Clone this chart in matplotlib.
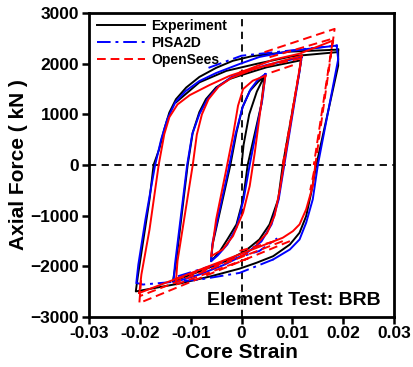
import numpy as np
import matplotlib.pyplot as plt
from matplotlib.lines import Line2D

plt.rcParams['font.family'] = ['Liberation Sans', 'DejaVu Sans']
plt.rcParams['font.weight'] = 'bold'

nan = np.nan

# ---- Experiment (black), branches separated by nan ----
exp_strain = [0.0, 0.0004, 0.0015, 0.0030, 0.0045, nan,
              # small loop
              0.0045, 0.0039, 0.0012, 0.0003, -0.0010, -0.0028, -0.0043, -0.0060,
              -0.0057, -0.0022, -0.0010, 0.0002, 0.0016, 0.0032, 0.0045, nan,
              # medium loop
              0.0117, 0.0113, 0.0081, 0.0072, 0.0055, 0.0035, 0.0006, -0.0033, -0.0083, -0.0135,
              -0.0129, -0.0106, -0.0096, -0.0083, -0.0070, -0.0050, -0.0024, 0.0, 0.0049, 0.0117, nan,
              # large loop
              0.0190, 0.0190, 0.0147, 0.0137, 0.0127, 0.0114, 0.0095, 0.0062, 0.0029, -0.0004,
              -0.0060, -0.0120, -0.0208,
              -0.0204, -0.0194, -0.0181, -0.0173, -0.0162, -0.0152, -0.0142, -0.0129, -0.0109,
              -0.0083, -0.0050, -0.0017, 0.0020, 0.0095, 0.0190, nan,
              # second large cycle, upper branch
              -0.0129, -0.0083, -0.0030, 0.0030, 0.0100, 0.0188]
exp_force = [0, 400, 1000, 1450, 1760, nan,
             1760, 1203, 0, -680, -1175, -1473, -1710, -1903,
             -1572, 0, 642, 1144, 1461, 1639, 1760, nan,
             2070, 1800, 0, -680, -1175, -1473, -1710, -1909, -2107, -2300,
             -1935, 0, 642, 1045, 1302, 1534, 1698, 1778, 1930, 2070, nan,
             2280, 1962, 0, -547, -1011, -1340, -1572, -1804, -1935, -2050,
             -2200, -2340, -2500,
             -2200, -1538, -680, 0, 311, 707, 1038, 1300, 1530,
             1740, 1920, 2060, 2150, 2240, 2280, nan,
             1237, 1633, 1860, 2000, 2150, 2230]

# ---- PISA2D (blue) curved branches ----
pisa_strain = [0.0047, 0.0041, 0.0016, 0.0004, -0.0010, -0.0028, -0.0047, -0.0060,
               -0.0057, -0.0024, -0.0012, 0.0002, 0.0018, 0.0033, 0.0047, nan,
               0.0118, 0.0114, 0.0084, 0.0073, 0.0059, 0.0039, 0.0006, -0.0033, -0.0083, -0.0134,
               -0.0131, -0.0107, -0.0097, -0.0083, -0.0067, -0.0047, -0.0020, 0.0, 0.0049, 0.0118, nan,
               0.0187, 0.0190, 0.0150, 0.0140, 0.0127, 0.0114, 0.0095, 0.0062, nan,
               -0.0207, -0.0203, -0.0189, -0.0170, -0.0158, -0.0146, -0.0130, -0.0110, -0.0083,
               -0.0050, -0.0004, 0.0035, 0.0095, 0.0187]
pisa_force = [1798, 1302, 0, -680, -1235, -1572, -1790, -1903,
              -1532, 0, 608, 1144, 1500, 1698, 1798, nan,
              2129, 1850, 0, -680, -1175, -1512, -1770, -1968, -2166, -2325,
              -1968, 0, 608, 1005, 1302, 1540, 1738, 1818, 1976, 2129, nan,
              2360, 2090, 0, -680, -1142, -1473, -1671, -1869, nan,
              -2331, -1969, -1077, 0, 509, 906, 1243, 1461, 1659,
              1818, 1996, 2135, 2253, 2360]

# ---- PISA2D (blue) straight branches ----
pisa_line_strain = [0.0062, 0.0029, -0.0004, -0.0083, -0.0194, -0.0207, nan,
                    -0.0125, 0.0035, 0.0070, nan,
                    -0.0065, 0.0000, 0.0187]
pisa_line_force = [-1869, -2002, -2134, -2266, -2364, -2331, nan,
                   -2200, -1700, -1450, nan,
                   1920, 2160, 2360]

# ---- OpenSees (red) curved branches ----
os_strain = [0.0047, 0.0039, 0.0026, 0.0016, 0.0003, -0.0017, -0.0037, -0.0060,
             -0.0050, -0.0030, -0.0017, -0.0007, 0.0003, 0.0022, 0.0047, nan,
             0.0118, 0.0114, 0.0083, 0.0075, 0.0065, 0.0050, 0.0030, nan,
             -0.0129, -0.0126, -0.0096, -0.0088, -0.0078, -0.0065, -0.0045, -0.0020, 0.0020,
             0.0070, 0.0118, nan,
             -0.0201, -0.0197, -0.0181, -0.0163, -0.0152, -0.0142, -0.0126, -0.0102, -0.0063,
             -0.0024, 0.0003, 0.0062, 0.0114, 0.0180, nan,
             0.0145, 0.0140, 0.0127, 0.0114, 0.0101, 0.0081, -0.0201]
os_force = [1764, 1237, 246, -416, -943, -1407, -1670, -1804,
            -1076, -85, 575, 1170, 1500, 1665, 1764, nan,
            2160, 1900, 0, -500, -1000, -1350, -1560, nan,
            -2300, -1900, 0, 600, 1000, 1300, 1550, 1720, 1880,
            2030, 2160, nan,
            -2530, -2167, -1275, 0, 608, 945, 1196, 1380, 1580,
            1760, 1850, 2080, 2200, 2460, nan,
            0, -416, -878, -1175, -1308, -1439, -2530]

# ---- OpenSees (red) straight branches ----
os_line_strain = [0.0045, 0.0183, 0.0145, 0.0135, nan,
                  0.0055, 0.0180, 0.0142, nan,
                  0.0095, -0.0201, -0.0197, nan,
                  0.0081, -0.0201, nan,
                  -0.0004, 0.0118, 0.0081, nan,
                  -0.0129, 0.0016, nan,
                  -0.0129, 0.0016, nan,
                  -0.0004, 0.0068, nan,
                  0.0059, 0.0108]
os_line_force = [2230, 2690, 0, -500, nan,
                 2130, 2500, 0, nan,
                 -1506, -2729, -2200, nan,
                 -1506, -2596, nan,
                 1838, 2110, 0, nan,
                 -2364, -1836, nan,
                 -2266, -1737, nan,
                 -1700, -1500, nan,
                 1831, 1996]

fig = plt.figure(figsize=(4.14, 3.67), dpi=100)
ax = fig.add_axes([0.215, 0.137, 0.737, 0.827])

ax.axhline(0, color='black', lw=1.3, ls=(0, (4, 3)), zorder=1)
ax.axvline(0, color='black', lw=1.3, ls=(0, (4, 3)), zorder=1)

ax.plot(exp_strain, exp_force, color='black', lw=1.4, zorder=3)
ax.plot(pisa_strain, pisa_force, color='blue', lw=1.4, zorder=4)
ax.plot(pisa_line_strain, pisa_line_force, color='blue', lw=1.4,
        ls=(0, (7, 2.5, 1.5, 2.5)), zorder=4)
ax.plot(os_strain, os_force, color='red', lw=1.4, zorder=5)
ax.plot(os_line_strain, os_line_force, color='red', lw=1.4,
        ls=(0, (4.5, 2.5)), zorder=5)

ax.set_xlim(-0.03, 0.03)
ax.set_ylim(-3000, 3000)
ax.set_xticks([-0.03, -0.02, -0.01, 0, 0.01, 0.02, 0.03])
ax.set_xticklabels(['-0.03', '-0.02', '-0.01', '0', '0.01', '0.02', '0.03'])
ax.set_yticks([-3000, -2000, -1000, 0, 1000, 2000, 3000])
ax.tick_params(direction='out', length=5, width=1.8, labelsize=12.5, pad=2)
for s in ax.spines.values():
    s.set_linewidth(2)

ax.set_xlabel('Core Strain', fontsize=15, fontweight='bold', labelpad=1)
ax.set_ylabel('Axial Force ( kN )', fontsize=15, fontweight='bold', labelpad=2)

ax.text(0.957, 0.055, 'Element Test: BRB', transform=ax.transAxes,
        ha='right', va='center', fontsize=14, fontweight='bold')

handles = [Line2D([], [], color='black', lw=1.4),
           Line2D([], [], color='blue', lw=1.4, ls=(0, (7, 2.5, 1.5, 2.5))),
           Line2D([], [], color='red', lw=1.4, ls=(0, (4.5, 2.5)))]
ax.legend(handles, ['Experiment', 'PISA2D', 'OpenSees'], loc='upper left',
          bbox_to_anchor=(0.026, 0.98), frameon=False, fontsize=10,
          handlelength=3.45, handletextpad=0.45, labelspacing=0.19,
          borderpad=0, borderaxespad=0)

fig.savefig('out.png', dpi=100)
